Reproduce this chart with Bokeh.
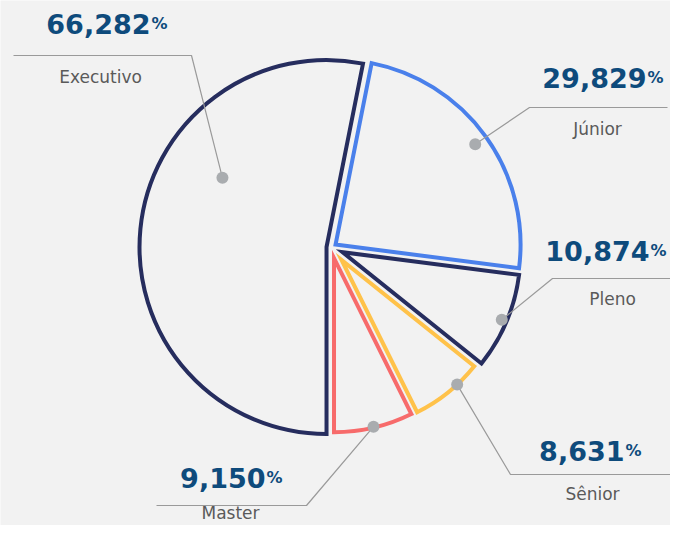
import math
from bokeh.plotting import figure
from bokeh.models import Range1d
from bokeh.core.properties import value
from bokeh.embed import file_html
from bokeh.resources import INLINE

# ---------------- data ----------------
categories = ["Executivo", "Júnior", "Pleno", "Sênior", "Master"]
values = [66.282, 29.829, 10.874, 8.631, 9.150]
colors = ["#262d5e", "#4a80eb", "#262d5e", "#ffc24a", "#f76b6b"]

# ---------------- layout / style ----------------
W, H = 686, 541            # reference canvas (screen px, y down)
FW, FH = 670, 525          # figure size that fits the window
BG = "#f2f2f2"
NUM_COLOR = "#0e4b7c"
LABEL_COLOR = "#5a5a5a"
CONN_COLOR = "#9a9a9a"
DOT_COLOR = "#a9acaf"

pie_cx, pie_cy = 331, 247          # screen coords of pie centre
explode = [5, 5, 12, 16, 11]       # slice offsets along bisector
radii = [187, 185, 178, 170, 174]  # slice radii
dot_shift = [-28, 0, 0, 4, 0]      # degrees off bisector for the dot
dot_dist = [125, 172, 173, 170, 173]

# label layout: elbow point, far end of the horizontal rule, number anchor, label anchor (screen coords)
elbows = [(191, 55), (529, 107), (552, 278), (510, 474), (306, 505)]
rule_ends = [13, 667, 690, 672, 156]
num_anchor = [(150, 33), (646, 87), (649, 260), (624, 460), (265, 487)]
lab_anchor = [(100, 83), (597, 135), (612, 305), (592, 500), (230, 519)]
NUM_DY, LAB_DY = -10, -7           # baseline corrections for the renderer


def yu(y_screen):
    return H - y_screen


p = figure(width=FW, height=FH, output_backend="svg",
           toolbar_location=None, min_border=0,
           x_range=Range1d(0, FW), y_range=Range1d(H - FH, H))
p.axis.visible = False
p.grid.visible = False
p.outline_line_color = None
p.background_fill_color = BG
p.border_fill_color = BG

total = sum(values)
start = -90.0
cx, cy = pie_cx, yu(pie_cy)
dots_x, dots_y = [], []
for i, v in enumerate(values):
    sweep = v / total * 360.0
    a_hi = start
    a_lo = start - sweep
    start = a_lo
    bis = math.radians((a_lo + a_hi) / 2)
    vx = cx + explode[i] * math.cos(bis)
    vy = cy + explode[i] * math.sin(bis)
    p.wedge(x=vx, y=vy, radius=radii[i], start_angle=math.radians(a_lo),
            end_angle=math.radians(a_hi), direction="anticlock",
            fill_color=None, line_color=colors[i], line_width=4,
            line_join="miter")
    da = bis + math.radians(dot_shift[i])
    dots_x.append(vx + dot_dist[i] * math.cos(da))
    dots_y.append(vy + dot_dist[i] * math.sin(da))

# connectors
xs, ys = [], []
for i in range(len(values)):
    ex, ey = elbows[i]
    xs.append([dots_x[i], ex, rule_ends[i]])
    ys.append([dots_y[i], yu(ey), yu(ey)])
p.multi_line(xs=xs, ys=ys, line_color=CONN_COLOR, line_width=1.2)

p.scatter(x=dots_x, y=dots_y, size=12, fill_color=DOT_COLOR, line_color=None)

# numbers
num_text = [f"{v:.3f}".replace(".", ",") for v in values]
num_y = [yu(a[1] + NUM_DY) for a in num_anchor]
p.text(x=[a[0] for a in num_anchor], y=num_y, text=num_text,
       text_font=value("DejaVu Sans"), text_font_style="bold", text_font_size="27px",
       text_color=NUM_COLOR, text_align="right", text_baseline="alphabetic")
p.text(x=[a[0] + 1 for a in num_anchor], y=num_y,
       text=["%"] * len(values),
       text_font=value("DejaVu Sans"), text_font_style="bold", text_font_size="16px",
       text_color=NUM_COLOR, text_align="left", text_baseline="alphabetic")

# labels
p.text(x=[a[0] for a in lab_anchor], y=[yu(a[1] + LAB_DY) for a in lab_anchor], text=categories,
       text_font=value("DejaVu Sans"), text_font_size="17px",
       text_color=LABEL_COLOR, text_align="center", text_baseline="alphabetic")

open("out.html", "w").write(file_html(p, INLINE))
